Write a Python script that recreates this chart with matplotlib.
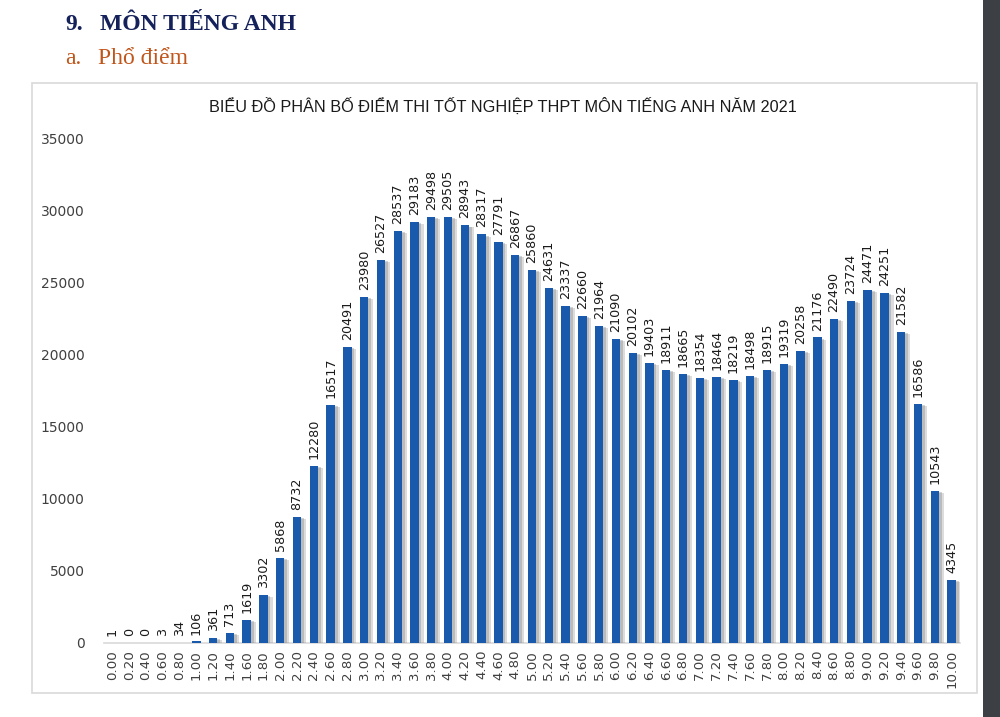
import matplotlib
matplotlib.use('Agg')
import matplotlib.pyplot as plt
import matplotlib.patheffects as pe
from matplotlib.patches import Rectangle

# diem thi (buoc 0.2) va so luong thi sinh
scores = ['0.00', '0.20', '0.40', '0.60', '0.80', '1.00', '1.20', '1.40', '1.60', '1.80',
          '2.00', '2.20', '2.40', '2.60', '2.80', '3.00', '3.20', '3.40', '3.60', '3.80',
          '4.00', '4.20', '4.40', '4.60', '4.80', '5.00', '5.20', '5.40', '5.60', '5.80',
          '6.00', '6.20', '6.40', '6.60', '6.80', '7.00', '7.20', '7.40', '7.60', '7.80',
          '8.00', '8.20', '8.40', '8.60', '8.80', '9.00', '9.20', '9.40', '9.60', '9.80',
          '10.00']
counts = [1, 0, 0, 3, 34, 106, 361, 713, 1619, 3302,
          5868, 8732, 12280, 16517, 20491, 23980, 26527, 28537, 29183, 29498,
          29505, 28943, 28317, 27791, 26867, 25860, 24631, 23337, 22660, 21964,
          21090, 20102, 19403, 18911, 18665, 18354, 18464, 18219, 18498, 18915,
          19319, 20258, 21176, 22490, 23724, 24471, 24251, 21582, 16586, 10543,
          4345]
y_ticks = [0, 5000, 10000, 15000, 20000, 25000, 30000, 35000]

chart_title = 'BIỂU ĐỒ PHÂN BỐ ĐIỂM THI TỐT NGHIỆP THPT MÔN TIẾNG ANH NĂM 2021'
heading = 'MÔN TIẾNG ANH'
sub_heading = 'Phổ điểm'

W, H = 1000, 717
fig = plt.figure(figsize=(W / 100, H / 100), dpi=100)
fig.patch.set_facecolor('white')

def fx(px):
    return px / W

def fy(py):
    return 1 - py / H

# khung bieu do
fig.patches.append(Rectangle((fx(32), fy(693)), fx(977) - fx(32), fy(83) - fy(693),
                             transform=fig.transFigure, facecolor='white',
                             edgecolor='#d9d9d9', linewidth=1.2, zorder=0))
# thanh toi ben phai
fig.patches.append(Rectangle((fx(983), 0), fx(1000) - fx(983), 1,
                             transform=fig.transFigure, facecolor='#3c3f43',
                             edgecolor='none', zorder=0))

# tieu de van ban
fig.text(fx(65), fy(25), '9.', family='Liberation Serif', weight='bold',
         fontsize=17, color='#14215a', va='center')
fig.text(fx(100), fy(25), heading, family='Liberation Serif', weight='bold',
         fontsize=17, color='#14215a', va='center')
fig.text(fx(65), fy(58), 'a.', family='Liberation Serif',
         fontsize=17, color='#c0561b', va='center')
fig.text(fx(98), fy(58), sub_heading, family='Liberation Serif',
         fontsize=17, color='#c0561b', va='center')

fig.text(fx(503), fy(106), chart_title, family='Liberation Sans',
         fontsize=11.7, color='#1a1a1a', ha='center', va='center')

ax = fig.add_axes([fx(104), fy(643), fx(960) - fx(104), fy(138) - fy(643)])
ax.set_zorder(2)
ax.set_facecolor('none')
x = list(range(len(scores)))
bars = ax.bar(x, counts, width=0.5, color='#1a5aad', zorder=3)
for b in bars:
    b.set_path_effects([pe.SimplePatchShadow(offset=(3.5, -1.5), shadow_rgbFace='#8c8c8c', alpha=0.3),
                        pe.SimplePatchShadow(offset=(2, -0.8), shadow_rgbFace='#7f7f7f', alpha=0.35),
                        pe.Normal()])

for xi, v in zip(x, counts):
    ax.annotate(str(v), (xi, v), xytext=(0, 5), textcoords='offset points',
                rotation=90, ha='center', va='bottom', fontsize=9.2, color='#1a1a1a',
                family='DejaVu Sans')

ax.set_xlim(-0.5, len(scores) - 0.5)
ax.set_ylim(0, 35000)
ax.set_xticks(x)
ax.set_xticklabels(scores, rotation=90, fontsize=9.6, color='#404040', family='DejaVu Sans')
ax.set_yticks(y_ticks)
ax.set_yticklabels([str(t) for t in y_ticks], fontsize=10, color='#404040', family='DejaVu Sans')
ax.tick_params(axis='both', length=0)
ax.tick_params(axis='y', pad=14)
ax.tick_params(axis='x', pad=5)
for s in ['top', 'right', 'left']:
    ax.spines[s].set_visible(False)
ax.spines['bottom'].set_color('#d9d9d9')
ax.spines['bottom'].set_linewidth(1.2)

fig.savefig('out.png', dpi=100, facecolor='white')
